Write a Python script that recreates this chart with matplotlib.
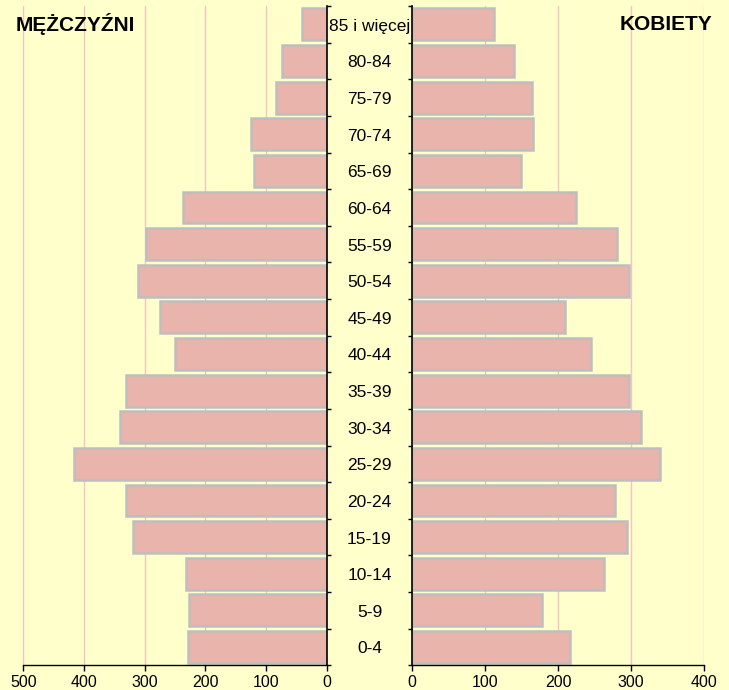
import matplotlib
matplotlib.use("Agg")
import matplotlib.pyplot as plt
import matplotlib.transforms as mtransforms

plt.rcParams['font.family'] = ['Liberation Sans', 'DejaVu Sans']

categories = ["0-4", "5-9", "10-14", "15-19", "20-24", "25-29", "30-34", "35-39",
              "40-44", "45-49", "50-54", "55-59", "60-64", "65-69", "70-74",
              "75-79", "80-84", "85 i więcej"]
men = [229, 227, 232, 320, 330, 417, 341, 330, 250, 274, 311, 297, 237, 119, 124, 84, 74, 40]
women = [216, 178, 263, 295, 278, 340, 313, 297, 245, 210, 297, 280, 225, 149, 166, 164, 140, 113]
men_ticks = [500, 400, 300, 200, 100, 0]
women_ticks = [0, 100, 200, 300, 400]

bg = "#FFFFCC"
bar_fc = "#E8B4AC"
bar_ec = "#BEBEBE"
grid_c = "#F2C4C4"

W, H = 729, 690
fig = plt.figure(figsize=(W / 100, H / 100), dpi=100, facecolor=bg)

bottom = 1 - 665.3 / H
height = 659.3 / H
axL = fig.add_axes([23.3 / W, bottom, (326.7 - 23.3) / W, height])
axR = fig.add_axes([411.7 / W, bottom, (704.3 - 411.7) / W, height])

ypos = list(range(len(categories)))

for ax, vals, ticks in ((axL, men, men_ticks), (axR, women, women_ticks)):
    ax.set_facecolor(bg)
    ax.barh(ypos, vals, height=0.87, color=bar_fc, edgecolor=bar_ec, linewidth=1.8, zorder=2)
    ax.set_ylim(-0.5, len(categories) - 0.5)
    ax.set_xticks(ticks)
    ax.set_xticklabels([str(t) for t in ticks], fontsize=11.5)
    ax.tick_params(axis='x', direction='out', length=4, width=1, colors='black', pad=3)
    ax.grid(axis='x', color=grid_c, linewidth=1, zorder=0)
    ax.set_axisbelow(True)
    ax.spines['top'].set_visible(False)
    ax.spines['bottom'].set_color('black')
    ax.spines['bottom'].set_linewidth(1)
    boundaries = [i - 0.5 for i in range(len(categories) + 1)]
    ax.set_yticks(boundaries)
    ax.set_yticklabels([])

axL.set_xlim(500, 0)
axL.spines['left'].set_visible(False)
axL.spines['right'].set_color('black')
axL.spines['right'].set_linewidth(1.2)
axL.yaxis.tick_right()
axL.tick_params(axis='y', direction='out', length=3, width=1, colors='black')

axR.set_xlim(0, 400)
axR.spines['right'].set_visible(False)
axR.spines['left'].set_color('black')
axR.spines['left'].set_linewidth(1.2)
axR.yaxis.tick_left()
axR.tick_params(axis='y', direction='out', length=3, width=1, colors='black')

trans = mtransforms.blended_transform_factory(fig.transFigure, axL.transData) + \
    mtransforms.ScaledTranslation(0, -2 / 100, fig.dpi_scale_trans)
for y, lab in zip(ypos, categories):
    fig.text(369.5 / W, y, lab, transform=trans, ha='center', va='center',
             fontsize=12.5, color='black')

fig.text(16 / W, 1 - 24 / H, "MĘŻCZYŹNI", ha='left', va='center',
         fontsize=15, fontweight='bold', color='black')
fig.text(712 / W, 1 - 24 / H, "KOBIETY", ha='right', va='center',
         fontsize=15, fontweight='bold', color='black')

fig.savefig("out.png", dpi=100, facecolor=bg)
